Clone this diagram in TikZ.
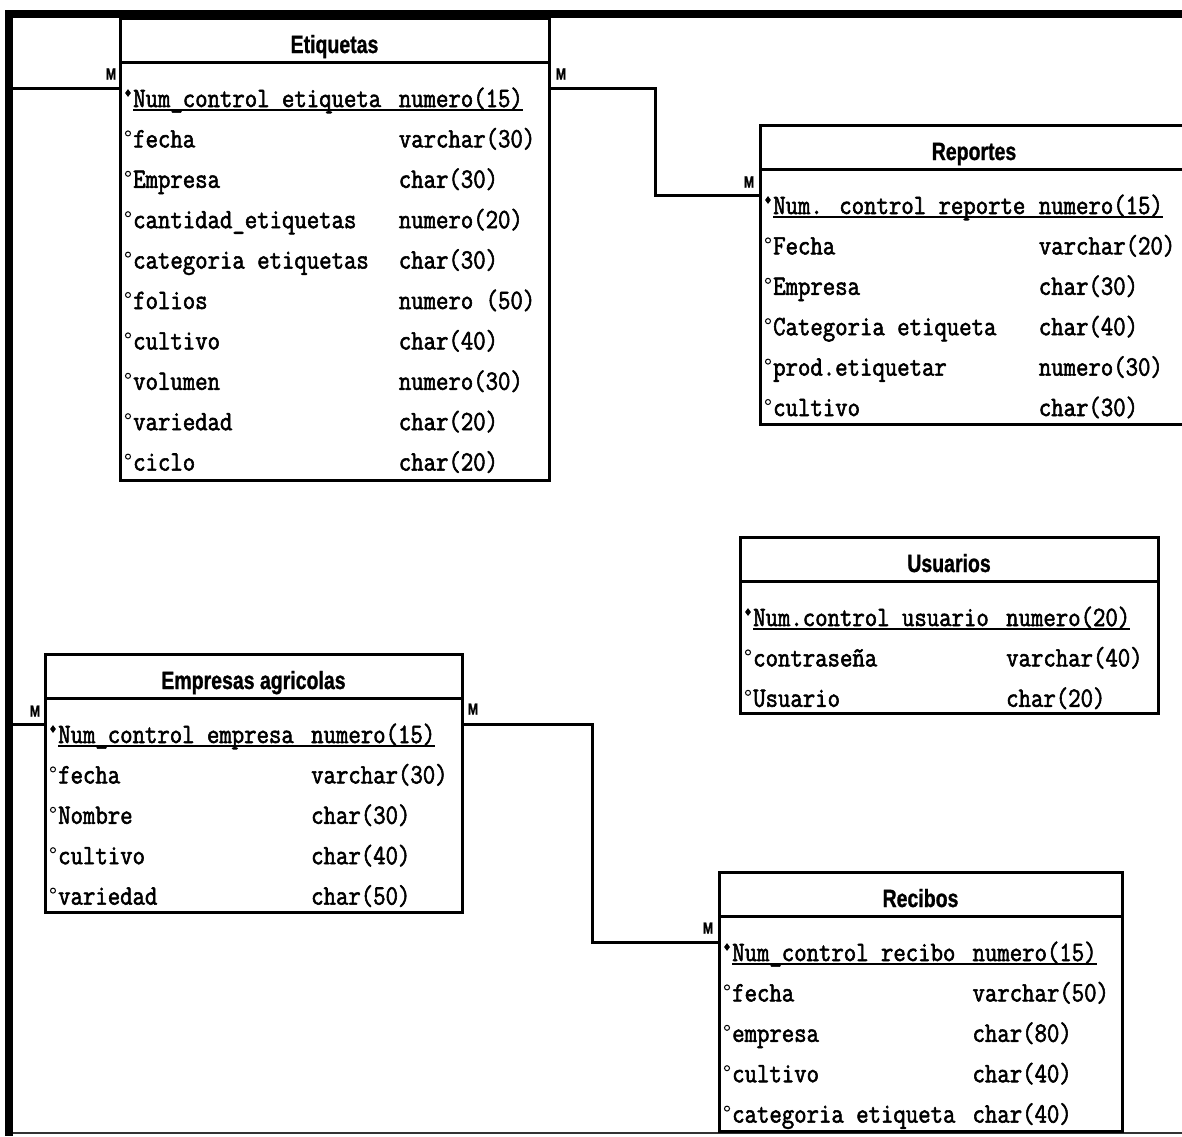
\documentclass[tikz,border=0pt]{standalone}
\usepackage{fontspec}
\usepackage{tikz}
\usetikzlibrary{calc,shapes.geometric}
\newfontfamily\rowfont[FakeStretch=0.86,FakeBold=2]{Latin Modern Mono}
\newfontfamily\headfont[FakeStretch=0.78,FakeBold=1]{Liberation Sans}
\tikzset{
  tbl/.style    ={rectangle,draw=black,line width=3pt,outer sep=0pt,inner sep=0pt,
                  anchor=north west},
  hdr/.style    ={font=\headfont\bfseries\fontsize{25}{25}\selectfont,anchor=base,
                  inner sep=0pt},
  fld/.style    ={font=\rowfont\fontsize{28}{28}\selectfont,anchor=base west,
                  inner sep=0pt},
  pk/.style     ={diamond,fill=black,inner sep=0pt,minimum width=6pt,minimum height=8pt},
  att/.style    ={circle,draw=black,line width=1pt,inner sep=0pt,minimum size=5pt},
  keyline/.style={draw=black,line width=1.6pt},
  rel/.style    ={draw=black,line width=3pt},
  card/.style   ={font=\headfont\bfseries\fontsize{16}{16}\selectfont,inner sep=0pt},
}
% rows of a table: #1 table, #2 column of the type, #3 name/type list
\newcommand{\fields}[3]{%
  \foreach \nm/\ty [count=\i from 0] in {#3}{%
    \node[fld] (#1-n\i) at ($(#1.north west)+(13,{89+40.4*\i})$) {\nm};
    \node[fld] (#1-t\i) at ($(#1.north west)+({13+12.65*#2},{89+40.4*\i})$) {\ty};
    \ifnum\i=0
      \node[pk]  (#1-m\i) at ($(#1.north west)+(8,{75+40.4*\i})$) {};
    \else
      \node[att] (#1-m\i) at ($(#1.north west)+(8,{75+40.4*\i})$) {};
    \fi
  }%
  \draw[keyline] ([yshift=-3pt]#1-n0.base west) -- ([yshift=-3pt]#1-t0.base east);
}

\begin{document}
\begin{tikzpicture}[x=1pt, y=-1pt]
\useasboundingbox (0,0) rectangle (1182,1136);
\clip (0,0) rectangle (1182,1136);
%% window frame
\draw[line width=8pt] (5,14) -- (1182,14);
\draw[line width=8pt] (9,10) -- (9,1136);
\draw[line width=1.5pt,black!80] (13,1133) -- (1182,1133);
%% tables
\node[tbl,minimum width=429pt,minimum height=462pt] (etq) at (120,18)  {};
\node[tbl,minimum width=428pt,minimum height=299pt] (rep) at (760,125) {};
\node[tbl,minimum width=418pt,minimum height=176pt] (usr) at (740,537) {};
\node[tbl,minimum width=417pt,minimum height=258pt] (emp) at (45,654)  {};
\node[tbl,minimum width=403pt,minimum height=259pt] (rec) at (719,872) {};
\foreach \t/\ttl in {etq/Etiquetas, rep/Reportes, usr/Usuarios,
                     emp/Empresas agricolas, rec/Recibos}{%
  \draw[rel] ($(\t.north west)+(0,44)$) -- ($(\t.north east)+(0,44)$);
  \node[hdr] (\t-h) at ($(\t.north)+(0,35)$) {\ttl};
}
\fields{etq}{21}{Num\_control etiqueta/numero(15), fecha/varchar(30),
  Empresa/char(30), cantidad\_etiquetas/numero(20), categoria etiquetas/char(30),
  folios/numero (50), cultivo/char(40), volumen/numero(30), variedad/char(20),
  ciclo/char(20)}
\fields{rep}{21}{Num. control reporte/numero(15), Fecha/varchar(20),
  Empresa/char(30), Categoria etiqueta/char(40), prod.etiquetar/numero(30),
  cultivo/char(30)}
\fields{usr}{20}{Num.control usuario/numero(20), contraseña/varchar(40),
  Usuario/char(20)}
\fields{emp}{20}{Num\_control empresa/numero(15), fecha/varchar(30),
  Nombre/char(30), cultivo/char(40), variedad/char(50)}
\fields{rec}{19}{Num\_control recibo/numero(15), fecha/varchar(50),
  empresa/char(80), cultivo/char(40), categoria etiqueta/char(40)}
%% relationship ends
\coordinate (etqW) at ($(etq.north west)+(0,70)$);
\coordinate (etqE) at ($(etq.north east)+(0,70)$);
\coordinate (repW) at ($(rep.north west)+(0,70)$);
\coordinate (empW) at ($(emp.north west)+(0,70)$);
\coordinate (empE) at ($(emp.north east)+(0,70)$);
\coordinate (recW) at ($(rec.north west)+(0,70)$);
\coordinate (busL) at (11,0);
\coordinate (e1)   at (655,0);
\coordinate (e2)   at (592,0);
\draw[rel] (etqW) -- (etqW -| busL) -- (empW -| busL) -- (empW);
\draw[rel] (etqE) -- (etqE -| e1) -- (repW -| e1) -- (repW);
\draw[rel] (empE) -- (empE -| e2) -- (recW -| e2) -- (recW);
%% cardinality marks
\node[card] (c1) at ($(etqW)+(-9,-14)$)  {M};
\node[card] (c2) at ($(etqE)+(12,-14)$)  {M};
\node[card] (c3) at ($(repW)+(-11,-13)$) {M};
\node[card] (c4) at ($(empW)+(-10,-13)$) {M};
\node[card] (c5) at ($(empE)+(11,-15)$)  {M};
\node[card] (c6) at ($(recW)+(-11,-14)$) {M};
\end{tikzpicture}
\end{document}
